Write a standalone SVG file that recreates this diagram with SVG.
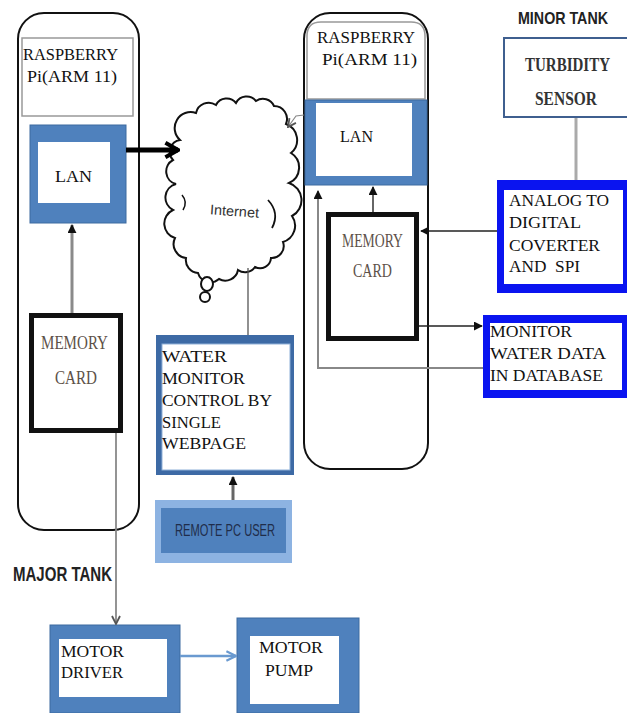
<svg xmlns="http://www.w3.org/2000/svg" width="627" height="713" viewBox="0 0 627 713">
<style>
.tw{font-family:"Liberation Serif","Times New Roman",serif;font-size:17px;fill:#111}
.mem{font-family:"Liberation Serif","Times New Roman",serif;font-size:19px;fill:#5d5148}
.bold{font-family:"Liberation Sans",Arial,sans-serif;font-weight:bold;fill:#222}
.pi{fill:none;stroke:#111;stroke-width:2}
.hdr{fill:#fff;stroke:#999;stroke-width:1.5}
.blue{fill:#4f81bd;stroke:#3d6aa0;stroke-width:1}
.vivid{fill:#0a14f0}
.white{fill:#fff}
.card{fill:#fff;stroke:#111;stroke-width:5}
</style>
<defs>
<marker id="tri" viewBox="0 0 10 10" refX="9" refY="5" markerWidth="9" markerHeight="9" markerUnits="userSpaceOnUse" orient="auto">
<path d="M0,0 L10,5 L0,10 z" fill="#111"/>
</marker>
<marker id="chev" viewBox="0 0 10 10" refX="9" refY="5" markerWidth="10" markerHeight="10" markerUnits="userSpaceOnUse" orient="auto">
<path d="M1,1 L9,5 L1,9" fill="none" stroke="#555" stroke-width="1.8"/>
</marker>
<marker id="chevBlue" viewBox="0 0 10 10" refX="9" refY="5" markerWidth="12" markerHeight="12" markerUnits="userSpaceOnUse" orient="auto">
<path d="M1,1 L9,5 L1,9" fill="none" stroke="#6a9ad0" stroke-width="1.8"/>
</marker>
<marker id="bigChev" viewBox="0 0 10 10" refX="9" refY="5" markerWidth="18" markerHeight="18" markerUnits="userSpaceOnUse" orient="auto">
<path d="M2,1 L9,5 L2,9" fill="none" stroke="#000" stroke-width="2.2"/>
</marker>
</defs>

<g id="pi-left">
<rect class="pi" x="18" y="13" width="121" height="517" rx="26" ry="26"/>
<rect class="hdr" x="22" y="38" width="111" height="78"/>
<text class="tw" x="23" y="60" textLength="95" lengthAdjust="spacingAndGlyphs">RASPBERRY</text>
<text class="tw" x="27" y="82" textLength="90" lengthAdjust="spacingAndGlyphs">Pi(ARM 11)</text>
</g>

<g id="lan-left">
<rect class="blue" x="30" y="125" width="96" height="98"/>
<rect class="white" x="38" y="142" width="72" height="61"/>
<text class="tw" x="55" y="182" textLength="37" lengthAdjust="spacingAndGlyphs">LAN</text>
</g>

<g id="memory-left">
<rect class="card" x="31.5" y="315.5" width="89" height="115"/>
<text class="mem" x="41" y="349" textLength="67" lengthAdjust="spacingAndGlyphs">MEMORY</text>
<text class="mem" x="55" y="384" textLength="42" lengthAdjust="spacingAndGlyphs">CARD</text>
</g>

<g id="internet">
<path d="M180,140 A16,16 0 0 1 196,113 A13,13 0 0 1 216,105 A12,12 0 0 1 236,103 A12,12 0 0 1 256,101 A12,12 0 0 1 274,106 A13,13 0 0 1 286,124 A17,17 0 0 1 291,153 A17,17 0 0 1 289,183 A18,18 0 0 1 292,216 A17,17 0 0 1 283,242 A12,12 0 0 1 271,258 A11,11 0 0 1 255,267 A12,12 0 0 1 238,270 A13,13 0 0 1 219,279 A13,13 0 0 1 198,273 A13,13 0 0 1 186,258 A14,14 0 0 1 175,238 A15,15 0 0 1 173,210 A14,14 0 0 1 176,184 A13,13 0 0 1 173,160 A12,12 0 0 1 180,140 Z" fill="#fff" stroke="#111" stroke-width="2"/>
<path d="M268,200 Q280,213 272,228" fill="none" stroke="#111" stroke-width="1.8"/>
<path d="M182,195 Q188,202 183,210" fill="none" stroke="#111" stroke-width="1.5"/>
<ellipse cx="207" cy="284" rx="6" ry="7" fill="#fff" stroke="#111" stroke-width="2"/>
<ellipse cx="205" cy="297" rx="5" ry="5" fill="#fff" stroke="#111" stroke-width="2"/>
<text x="210" y="216" font-family="'Liberation Sans',Arial,sans-serif" font-size="14" fill="#333" textLength="49" lengthAdjust="spacingAndGlyphs" transform="rotate(4 234 212)">Internet</text>
</g>

<g id="water-monitor">
<rect x="156" y="335" width="138" height="140" fill="#3d6aa5"/>
<rect x="162" y="344" width="128" height="126" fill="#fff" stroke="#8fb0d8" stroke-width="1"/>
<text class="tw" x="162" y="362" textLength="65" lengthAdjust="spacingAndGlyphs">WATER</text>
<text class="tw" x="162" y="384" textLength="83" lengthAdjust="spacingAndGlyphs">MONITOR</text>
<text class="tw" x="162" y="406" textLength="110" lengthAdjust="spacingAndGlyphs">CONTROL BY</text>
<text class="tw" x="162" y="428" textLength="59" lengthAdjust="spacingAndGlyphs">SINGLE</text>
<text class="tw" x="162" y="449" textLength="84" lengthAdjust="spacingAndGlyphs">WEBPAGE</text>
</g>

<g id="remote-pc">
<rect x="155" y="500" width="137" height="63" fill="#8db3e2"/>
<rect x="161" y="508" width="125" height="45" fill="#4f81bd"/>
<text x="175" y="536" font-family="'Liberation Sans',Arial,sans-serif" font-size="16" fill="#1f2d4a" textLength="100" lengthAdjust="spacingAndGlyphs">REMOTE PC USER</text>
</g>

<g id="major-tank">
<text class="bold" x="13" y="581" font-size="20" textLength="99" lengthAdjust="spacingAndGlyphs">MAJOR TANK</text>
</g>

<g id="motor-driver">
<rect class="blue" x="50" y="625" width="130" height="88"/>
<rect class="white" x="59" y="639" width="108" height="58"/>
<text class="tw" x="61" y="657" textLength="63" lengthAdjust="spacingAndGlyphs">MOTOR</text>
<text class="tw" x="61" y="678" textLength="62" lengthAdjust="spacingAndGlyphs">DRIVER</text>
</g>

<g id="motor-pump">
<rect class="blue" x="237" y="618" width="122" height="95"/>
<rect class="white" x="250" y="636" width="89" height="68"/>
<text class="tw" x="259" y="653" textLength="64" lengthAdjust="spacingAndGlyphs">MOTOR</text>
<text class="tw" x="265" y="676" textLength="48" lengthAdjust="spacingAndGlyphs">PUMP</text>
</g>

<g id="pi-right">
<rect class="pi" x="304" y="13" width="124" height="456" rx="26" ry="26"/>
<path d="M307,99 L307,36 Q307,22 321,22 L411,22 Q425,22 425,36 L425,99 Z" class="hdr"/>
<text class="tw" x="317" y="43" textLength="98" lengthAdjust="spacingAndGlyphs">RASPBERRY</text>
<text class="tw" x="322" y="65" textLength="95" lengthAdjust="spacingAndGlyphs">Pi(ARM 11)</text>
</g>

<g id="lan-right">
<rect class="blue" x="305" y="100" width="122" height="85"/>
<rect class="white" x="316" y="103" width="96" height="73"/>
<text class="tw" x="340" y="142" textLength="33" lengthAdjust="spacingAndGlyphs">LAN</text>
</g>

<g id="memory-right">
<rect class="card" x="328.5" y="214.5" width="88" height="124"/>
<text class="mem" x="342" y="247" textLength="61" lengthAdjust="spacingAndGlyphs">MEMORY</text>
<text class="mem" x="353" y="277" textLength="39" lengthAdjust="spacingAndGlyphs">CARD</text>
</g>

<g id="minor-tank">
<text class="bold" x="518" y="24" font-size="17" textLength="90" lengthAdjust="spacingAndGlyphs">MINOR TANK</text>
</g>

<g id="turbidity">
<rect x="504" y="38" width="125" height="79" fill="#fff" stroke="#3f5f8f" stroke-width="2"/>
<text x="525" y="71" font-family="'Liberation Serif','Times New Roman',serif" font-weight="bold" font-size="18" fill="#333" textLength="85" lengthAdjust="spacingAndGlyphs">TURBIDITY</text>
<text x="535" y="105" font-family="'Liberation Serif','Times New Roman',serif" font-weight="bold" font-size="18" fill="#333" textLength="62" lengthAdjust="spacingAndGlyphs">SENSOR</text>
</g>

<g id="adc">
<rect class="vivid" x="497" y="180" width="132" height="113"/>
<rect class="white" x="504" y="190" width="119" height="94"/>
<text class="tw" x="509" y="206" textLength="100" lengthAdjust="spacingAndGlyphs">ANALOG TO</text>
<text class="tw" x="509" y="228" textLength="72" lengthAdjust="spacingAndGlyphs">DIGITAL</text>
<text class="tw" x="509" y="251" textLength="91" lengthAdjust="spacingAndGlyphs">COVERTER</text>
<text class="tw" x="509" y="272" textLength="71" lengthAdjust="spacingAndGlyphs" xml:space="preserve">AND  SPI</text>
</g>

<g id="monitor-db">
<rect class="vivid" x="483" y="315" width="146" height="83"/>
<rect class="white" x="490" y="323" width="132" height="67"/>
<text class="tw" x="490" y="337" textLength="82" lengthAdjust="spacingAndGlyphs">MONITOR</text>
<text class="tw" x="490" y="359" textLength="116" lengthAdjust="spacingAndGlyphs">WATER DATA</text>
<text class="tw" x="490" y="381" textLength="113" lengthAdjust="spacingAndGlyphs">IN DATABASE</text>
</g>

<g id="connectors">
<line x1="126" y1="150" x2="178" y2="150" stroke="#000" stroke-width="5" marker-end="url(#bigChev)"/>
<line x1="72" y1="313" x2="72" y2="225" stroke="#8a8a8a" stroke-width="3" marker-end="url(#tri)"/>
<line x1="116" y1="433" x2="116" y2="624" stroke="#888" stroke-width="1.8" marker-end="url(#chev)"/>
<polyline points="304,115 296,116 288,127" fill="none" stroke="#888" stroke-width="1.2" marker-end="url(#chev)"/>
<line x1="248" y1="268" x2="248" y2="335" stroke="#555" stroke-width="1.3"/>
<line x1="233" y1="500" x2="233" y2="477" stroke="#666" stroke-width="3" marker-end="url(#tri)"/>
<line x1="373" y1="212" x2="373" y2="187" stroke="#666" stroke-width="2" marker-end="url(#tri)"/>
<polyline points="483,368 318,368 318,191" fill="none" stroke="#888" stroke-width="2" marker-end="url(#tri)"/>
<line x1="497" y1="231" x2="421" y2="231" stroke="#222" stroke-width="1.5" marker-end="url(#tri)"/>
<line x1="419" y1="326" x2="482" y2="326" stroke="#222" stroke-width="1.5" marker-end="url(#tri)"/>
<line x1="576" y1="118" x2="576" y2="180" stroke="#aaa" stroke-width="3"/>
<line x1="180" y1="656" x2="236" y2="656" stroke="#6a9ad0" stroke-width="2.5" marker-end="url(#chevBlue)"/>
</g>
</svg>
